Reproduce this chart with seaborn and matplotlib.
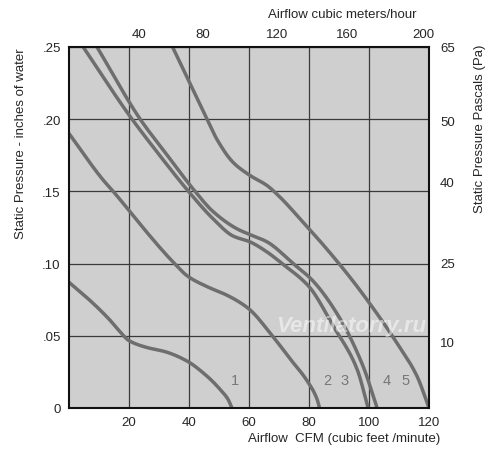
import numpy as np
import pandas as pd
import matplotlib
matplotlib.use('Agg')
import matplotlib.pyplot as plt
import seaborn as sns

# fan curves: airflow (CFM) vs static pressure (inches of water)
c1_cfm = [0, 6.7, 13.3, 16.7, 20, 25.7, 32.3, 39.3, 46, 50.3, 53, 54.3]
c1_inch = [0.087, 0.075, 0.0616, 0.0535, 0.0466, 0.042, 0.0388, 0.0325, 0.022, 0.013, 0.006, 0]

c2_cfm = [0, 11.3, 14.7, 20.3, 27, 34.7, 39.7, 46, 52.7, 57, 60.3, 67, 73.7, 79.3, 82.7, 83.5]
c2_inch = [0.190, 0.158, 0.150, 0.136, 0.119, 0.101, 0.091, 0.084, 0.078, 0.073, 0.068,
           0.052, 0.034, 0.019, 0.006, 0]

c3_cfm = [4.7, 20.3, 29.8, 39.8, 48, 54.7, 60.3, 66, 71, 80, 88, 96, 99.7]
c3_inch = [0.25, 0.202, 0.176, 0.150, 0.131, 0.119, 0.115, 0.108, 0.100, 0.084, 0.057, 0.027, 0]

c4_cfm = [9.3, 23.7, 32, 42, 48, 56, 60.3, 66, 74.7, 81.3, 90.3, 98, 102.7]
c4_inch = [0.25, 0.20, 0.177, 0.150, 0.136, 0.124, 0.120, 0.115, 0.100, 0.088, 0.062, 0.029, 0]

c5_cfm = [34.5, 46, 49.3, 54.7, 60.3, 66, 70.3, 77, 84.7, 92.7, 99.3, 109.3, 116, 120]
c5_inch = [0.25, 0.20, 0.186, 0.170, 0.161, 0.154, 0.146, 0.131, 0.113, 0.093, 0.075,
           0.045, 0.022, 0]

curve_names = ['1', '2', '3', '4', '5']

# axis ticks
cfm_ticks = [20, 40, 60, 80, 100, 120]
inch_ticks = [0, 0.05, 0.10, 0.15, 0.20, 0.25]
inch_labels = ['0', '.05', '.10', '.15', '.20', '.25']
m3h_labels = ['40', '80', '120', '160', '200']
m3h_pos = [23.3, 44.7, 69.3, 92.7, 118]
pa_labels = ['65', '50', '40', '25', '10']
pa_pos = [0.25, 0.199, 0.157, 0.101, 0.046]


def smooth(xs, ys, n=12):
    # monotone cubic (pchip) through the read points, only so the drawn line is not jagged
    x = np.asarray(xs, float)
    y = np.asarray(ys, float)
    h = np.diff(x)
    delta = np.diff(y) / h
    d = np.zeros_like(y)
    d[0], d[-1] = delta[0], delta[-1]
    for k in range(1, len(x) - 1):
        if delta[k - 1] * delta[k] > 0:
            w1 = 2 * h[k] + h[k - 1]
            w2 = h[k] + 2 * h[k - 1]
            d[k] = (w1 + w2) / (w1 / delta[k - 1] + w2 / delta[k])
    sx, sy = [], []
    for k in range(len(x) - 1):
        t = np.linspace(0, 1, n, endpoint=False)
        h00 = 2 * t ** 3 - 3 * t ** 2 + 1
        h10 = t ** 3 - 2 * t ** 2 + t
        h01 = -2 * t ** 3 + 3 * t ** 2
        h11 = t ** 3 - t ** 2
        sx.append(x[k] + t * h[k])
        sy.append(h00 * y[k] + h10 * h[k] * d[k] + h01 * y[k + 1] + h11 * h[k] * d[k + 1])
    sx.append([x[-1]])
    sy.append([y[-1]])
    return np.concatenate(sx), np.concatenate(sy)


frames = []
for name, xs, ys in zip(curve_names,
                        [c1_cfm, c2_cfm, c3_cfm, c4_cfm, c5_cfm],
                        [c1_inch, c2_inch, c3_inch, c4_inch, c5_inch]):
    sx, sy = smooth(xs, ys)
    frames.append(pd.DataFrame({'cfm': sx, 'inch': sy, 'curve': name}))
df = pd.concat(frames, ignore_index=True)

sns.set_style('white')
plt.rcParams['font.family'] = ['Liberation Sans', 'DejaVu Sans']

fig = plt.figure(figsize=(5, 4.6), dpi=100)
ax = fig.add_axes([0.138, 0.111, 0.72, 0.785])
ax.set_facecolor('#cfcfcf')

sns.lineplot(data=df, x='cfm', y='inch', hue='curve', sort=False, estimator=None,
             palette=['#6e6e6e'] * 5, linewidth=2.5, legend=False, ax=ax,
             solid_capstyle='butt', solid_joinstyle='round')

ax.set_xlim(0, 120)
ax.set_ylim(0, 0.25)
ax.set_xticks(cfm_ticks)
ax.set_xticklabels([str(t) for t in cfm_ticks], fontsize=9.5)
ax.set_yticks(inch_ticks)
ax.set_yticklabels(inch_labels, fontsize=9.5)
ax.tick_params(length=0, pad=6)
ax.grid(True, color='#3a3a3a', linewidth=0.9)
ax.set_axisbelow(True)
for s in ax.spines.values():
    s.set_color('#111111')
    s.set_linewidth(1.5)

ax.set_xlabel('Airflow  CFM (cubic feet /minute)', fontsize=9.5)
ax.xaxis.set_label_coords(0.765, -0.067)
ax.set_ylabel('Static Pressure - inches of water', fontsize=9.5)
ax.yaxis.set_label_coords(-0.118, 0.735)

# top axis: cubic meters/hour
top = ax.secondary_xaxis('top')
top.set_xticks(m3h_pos)
top.set_xticklabels(m3h_labels, fontsize=9.5)
top.tick_params(length=0, pad=5)
top.spines['top'].set_visible(False)
ax.text(0.758, 1.091, 'Airflow cubic meters/hour', transform=ax.transAxes,
        fontsize=9.5, ha='center', va='center')

# right axis: pascals
right = ax.twinx()
right.set_ylim(0, 0.25)
right.set_yticks(pa_pos)
right.set_yticklabels(pa_labels, fontsize=9.5)
right.tick_params(length=0, pad=8)
right.grid(False)
for s in right.spines.values():
    s.set_visible(False)
right.set_ylabel('Static Pressure Pascals (Pa)', fontsize=9.5)
right.yaxis.set_label_coords(1.125, 0.775)

# curve numbers
label_x = [55.3, 86, 92, 106, 112.3]
for name, lx in zip(curve_names, label_x):
    ax.text(lx, 0.0194, name, color='#777777', fontsize=10.5, ha='center', va='center')

ax.text(94, 0.057, 'Ventilatorry.ru', color='white', alpha=0.5, fontsize=16,
        fontweight='bold', fontstyle='italic', ha='center', va='center')

fig.savefig('out.png', dpi=100)
